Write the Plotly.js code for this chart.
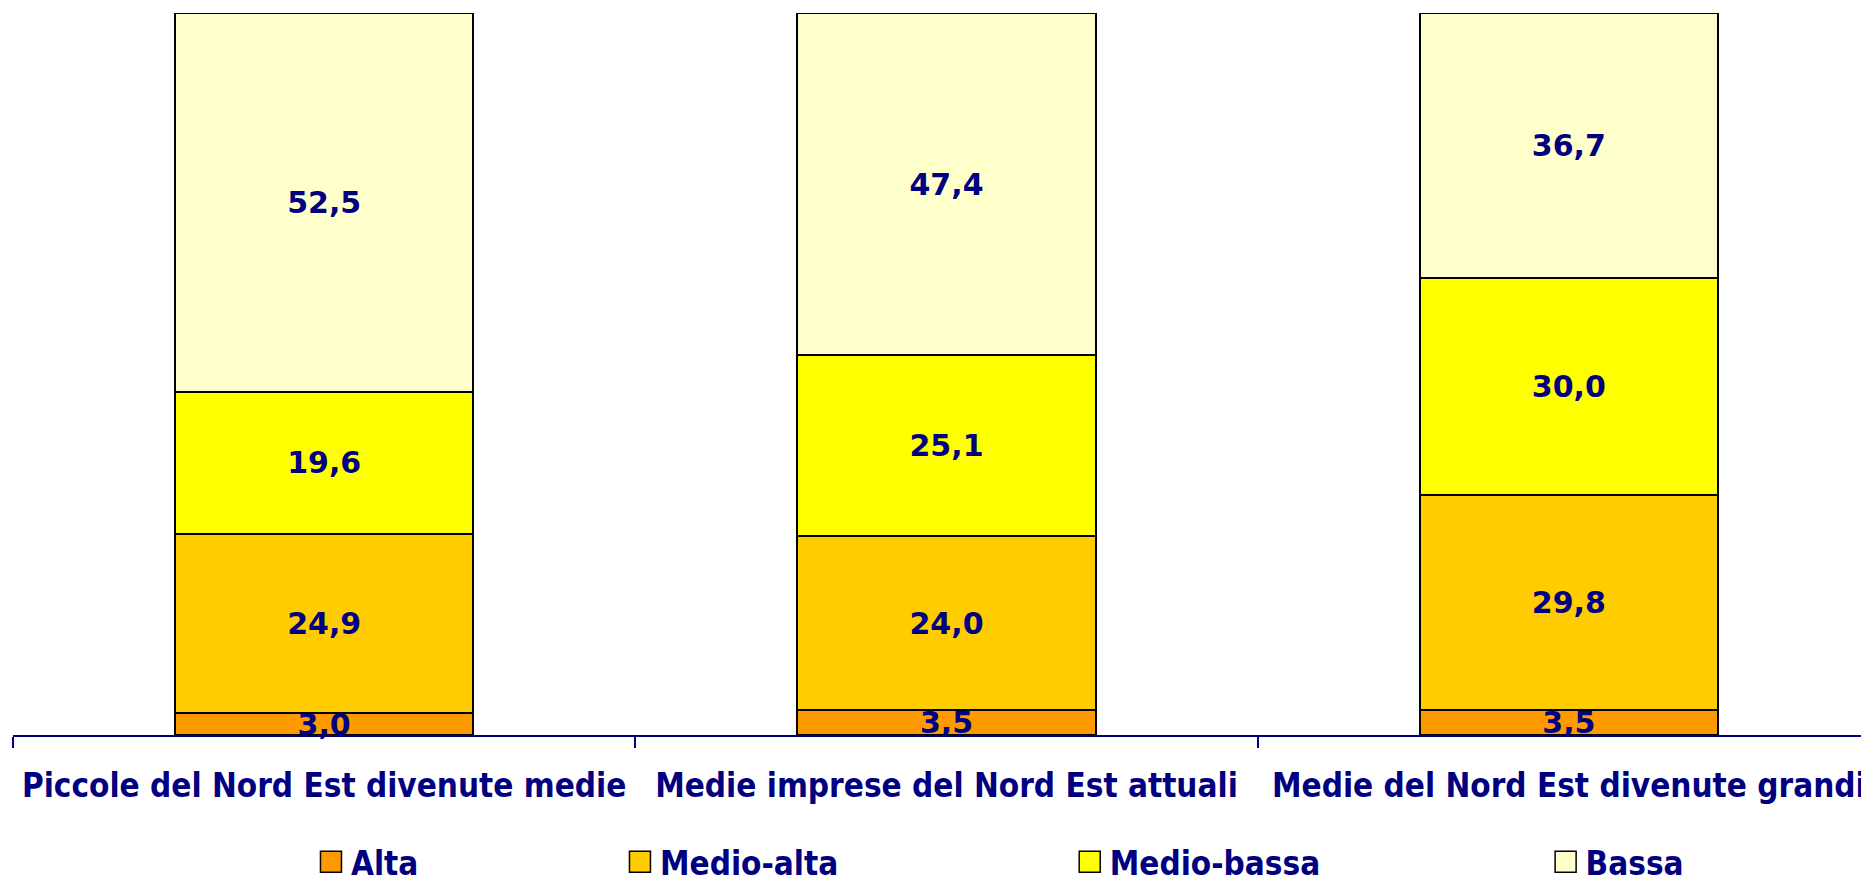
<!DOCTYPE html>
<html>
<head>
<meta charset="utf-8">
<script src="https://cdn.plot.ly/plotly-3.0.1.min.js"></script>
<style>
html, body { margin: 0; padding: 0; overflow: hidden; background: #ffffff; }
#chart { width: 1900px; height: 930px; }
</style>
</head>
<body>
<div id="chart"></div>
<script>
// Categories (x axis)
const categories = [
  "Piccole del Nord Est divenute medie",
  "Medie imprese del Nord Est attuali",
  "Medie del Nord Est divenute grandi"
];
// Series values (percent)
const alta = [3.0, 3.5, 3.5];
const medioAlta = [24.9, 24.0, 29.8];
const medioBassa = [19.6, 25.1, 30.0];
const bassa = [52.5, 47.4, 36.7];

const seriesNames = ["Alta", "Medio-alta", "Medio-bassa", "Bassa"];
const seriesValues = [alta, medioAlta, medioBassa, bassa];
const seriesColors = ["#FF9900", "#FFCC00", "#FFFF00", "#FFFFCC"];

const navy = "#000080";
const labelFont = "DejaVu Sans Condensed, Liberation Sans Narrow, DejaVu Sans, sans-serif";
const legendIds = ["legend", "legend2", "legend3", "legend4"];
const legendX = [0.1596, 0.3251, 0.5660, 0.8209];

const traces = seriesNames.map((name, i) => ({
  type: "bar",
  name: name,
  x: categories,
  y: seriesValues[i],
  legend: legendIds[i],
  marker: { color: seriesColors[i], line: { color: "#000000", width: 2 } },
  texttemplate: "%{y:.1f}",
  textposition: "inside",
  insidetextanchor: "middle",
  textangle: 0,
  constraintext: "none",
  textfont: { family: "DejaVu Sans, Verdana, sans-serif", size: 30, color: navy, weight: "bold" },
  hoverinfo: "skip",
  cliponaxis: false
}));

const layout = {
  width: 1900,
  height: 930,
  margin: { l: 13, r: 20, t: 13, b: 195 },
  paper_bgcolor: "#ffffff",
  plot_bgcolor: "#ffffff",
  barmode: "stack",
  bargap: 0.521,
  separators: ",.",
  showlegend: true,
  xaxis: {
    type: "category",
    showline: true,
    linecolor: navy,
    linewidth: 2,
    ticks: "outside",
    tickson: "boundaries",
    ticklen: 11,
    tickwidth: 2,
    tickcolor: navy,
    tickangle: 0,
    ticklabelstandoff: 20,
    tickfont: { family: labelFont, size: 33, color: navy, weight: "bold" },
    showgrid: false,
    zeroline: false,
    fixedrange: true
  },
  yaxis: {
    range: [0, 100],
    visible: false,
    showgrid: false,
    zeroline: false,
    fixedrange: true
  }
};

legendIds.forEach((id, i) => {
  layout[id] = {
    orientation: "h",
    x: legendX[i],
    xanchor: "left",
    y: -0.1755,
    yanchor: "middle",
    bgcolor: "rgba(0,0,0,0)",
    borderwidth: 0,
    font: { family: labelFont, size: 33, color: navy, weight: "bold" }
  };
});

Plotly.newPlot("chart", traces, layout, { displayModeBar: false, staticPlot: true }).then(gd => {
  // enlarge the legend swatches to match the reference's larger squares
  gd.querySelectorAll("g.legendpoints path").forEach(p => {
    const t = p.getAttribute("transform") || "";
    p.setAttribute("transform", t + " scale(1.75)");
    p.style.vectorEffect = "non-scaling-stroke";
    p.style.strokeWidth = "1.5px";
  });
});
</script>
</body>
</html>
